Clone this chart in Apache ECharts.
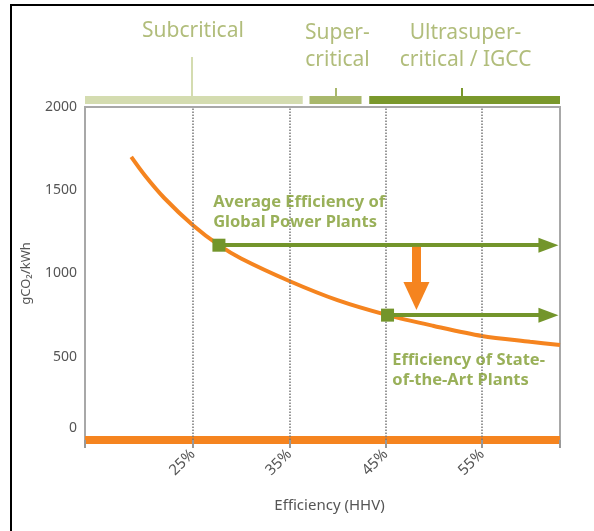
<!DOCTYPE html>
<html>
<head>
<meta charset="utf-8">
<script src="https://cdn.jsdelivr.net/npm/echarts@6/dist/echarts.min.js"></script>
<style>
  body { margin: 0; background: #fff; }
  #chart { width: 594px; height: 531px; }
  .frame-top { position: absolute; left: 10px; top: 4px; width: 584px; height: 2px; background: #000; }
  .frame-left { position: absolute; left: 10px; top: 4px; width: 2px; height: 527px; background: #000; }
</style>
</head>
<body>
<div id="chart"></div>
<div class="frame-top"></div>
<div class="frame-left"></div>
<script>
// --- data ---
const X_MIN = 13.8;
const X_MAX = 63.1;
const xTicks = [25, 35, 45, 55];
const yTicks = [0, 500, 1000, 1500, 2000];

// emission curve (efficiency %, gCO2/kWh)
const curveEff = [18.6, 20, 22, 25, 27.7, 30, 35, 40, 45.2, 50, 55, 60, 63.1];
const curveCO2 = [1700, 1590, 1455, 1290, 1170, 1090, 955, 840, 750, 685, 625, 590, 570];

// average vs state of the art plants
const avgPoint = [27.7, 1170];
const bestPoint = [45.2, 750];
const arrowEnd = 61.9;
const dropX = 48.2;
const dropFrom = 1160;
const dropTo = 865;

// technology bands on top
const techNames = ['Subcritical', 'Super-\ncritical', 'Ultrasuper-\ncritical / IGCC'];
const techRanges = [[13.8, 36.4], [37.1, 42.5], [43.3, 63.1]];
const techMarks = [24.9, 39.8, 52.9];
const techLabelX = [25.0, 40.0, 53.3];
const techColors = ['#d4dcb0', '#a9b86c', '#7a982c'];

const GREEN = '#73952b';
const GREEN_TEXT = '#7f9c30';
const ORANGE = '#f5841f';
const FONT = 'Noto Sans';

const chart = echarts.init(document.getElementById('chart'), null, { renderer: 'canvas' });

const curveData = curveEff.map((e, i) => [e, curveCO2[i]]);

const option = {
  backgroundColor: '#fff',
  animation: false,
  grid: [
    { left: 85, right: 34, top: 107, bottom: 91, show: true, borderColor: '#a8a8a8', borderWidth: 2 },
    { left: 85, right: 34, top: 4, bottom: 427 }
  ],
  xAxis: [
    {
      type: 'value',
      min: X_MIN,
      max: X_MAX,
      name: 'Efficiency (HHV)',
      nameLocation: 'middle',
      nameGap: 58,
      nameTextStyle: { color: '#555', fontSize: 15, fontFamily: FONT, padding: [0, 0, 0, 14] },
      axisLine: { show: true, lineStyle: { color: ORANGE, width: 8, cap: 'butt' } },
      axisTick: {
        show: true,
        customValues: [X_MIN].concat(xTicks, [X_MAX]),
        length: 8,
        lineStyle: { color: '#999', width: 2 }
      },
      axisLabel: {
        customValues: xTicks,
        rotate: 45,
        margin: 12,
        color: '#555',
        fontSize: 15,
        fontFamily: FONT,
        formatter: v => v + '%'
      },
      splitLine: { show: false }
    },
    { type: 'value', gridIndex: 1, min: X_MIN, max: X_MAX, show: false }
  ],
  yAxis: [
    {
      type: 'value',
      min: 0,
      max: 2000,
      interval: 500,
      name: 'gCO\u2082/kWh',
      nameLocation: 'middle',
      nameGap: 52,
      nameTextStyle: { color: '#555', fontSize: 13, fontFamily: FONT },
      axisLine: { show: false },
      axisTick: { show: false },
      splitLine: { show: false },
      axisLabel: {
        margin: 8,
        color: '#555',
        fontSize: 14,
        fontFamily: FONT,
        formatter: v => (v === 0 ? '{z|0}' : String(v)),
        rich: { z: { color: '#555', fontSize: 14, fontFamily: FONT, padding: [0, 0, 24, 0] } }
      }
    },
    { type: 'value', gridIndex: 1, min: 0, max: 100, show: false }
  ],
  series: [
    // dotted guide lines
    {
      type: 'line',
      data: [],
      markLine: {
        silent: true,
        symbol: 'none',
        label: { show: false },
        lineStyle: { color: '#777', type: 'dotted', width: 1.5 },
        data: xTicks.map(v => ({ xAxis: v }))
      }
    },
    // emission curve
    {
      type: 'line',
      data: curveData,
      smooth: 0.3,
      showSymbol: false,
      lineStyle: { color: ORANGE, width: 4 },
      z: 3
    },
    // green arrows
    {
      type: 'line',
      data: [],
      z: 4,
      markLine: {
        silent: true,
        label: { show: false },
        lineStyle: { color: GREEN, width: 4, type: 'solid' },
        data: [
          [
            { coord: avgPoint, symbol: 'rect', symbolSize: 13 },
            { coord: [arrowEnd, avgPoint[1]], symbol: 'triangle', symbolSize: [15, 20] }
          ],
          [
            { coord: bestPoint, symbol: 'rect', symbolSize: 13 },
            { coord: [arrowEnd, bestPoint[1]], symbol: 'triangle', symbolSize: [15, 20] }
          ]
        ]
      }
    },
    // orange drop arrow
    {
      type: 'line',
      data: [],
      z: 4,
      markLine: {
        silent: true,
        label: { show: false },
        lineStyle: { color: ORANGE, width: 9, type: 'solid' },
        data: [[
          { coord: [dropX, dropFrom], symbol: 'none' },
          { coord: [dropX, dropTo], symbol: 'triangle', symbolSize: [26, 28] }
        ]]
      }
    },
    // annotation text
    {
      type: 'scatter',
      symbolSize: 0,
      data: [
        { value: [27.1, 1369], name: 'Average Efficiency of\nGlobal Power Plants' },
        { value: [45.7, 420], name: 'Efficiency of State-\nof-the-Art Plants' }
      ],
      label: {
        show: true,
        position: 'right',
        distance: 0,
        formatter: p => p.name,
        color: GREEN_TEXT,
        fontSize: 16.5,
        fontWeight: 'bold',
        fontFamily: FONT,
        lineHeight: 20
      },
      z: 5
    },
    // technology bands
    {
      type: 'lines',
      xAxisIndex: 1,
      yAxisIndex: 1,
      coordinateSystem: 'cartesian2d',
      silent: true,
      data: techRanges.map((r, i) => ({
        coords: [[r[0], 4], [r[1], 4]],
        lineStyle: { color: techColors[i], width: 8, opacity: 1 }
      }))
    },
    {
      type: 'lines',
      xAxisIndex: 1,
      yAxisIndex: 1,
      coordinateSystem: 'cartesian2d',
      silent: true,
      data: techMarks.map((x, i) => ({
        coords: [[x, 8], [x, i === 0 ? 47 : 16]],
        lineStyle: { color: techColors[i], width: 2, opacity: 1 }
      }))
    },
    {
      type: 'scatter',
      xAxisIndex: 1,
      yAxisIndex: 1,
      symbolSize: 0,
      data: techNames.map((n, i) => ({ value: [techLabelX[i], i === 0 ? 72.5 : 57.5], name: n })),
      label: {
        show: true,
        position: 'inside',
        formatter: p => p.name,
        color: '#9dac5a',
        fontSize: 21,
        fontFamily: FONT,
        lineHeight: 27
      }
    }
  ]
};

chart.setOption(option);
</script>
</body>
</html>
